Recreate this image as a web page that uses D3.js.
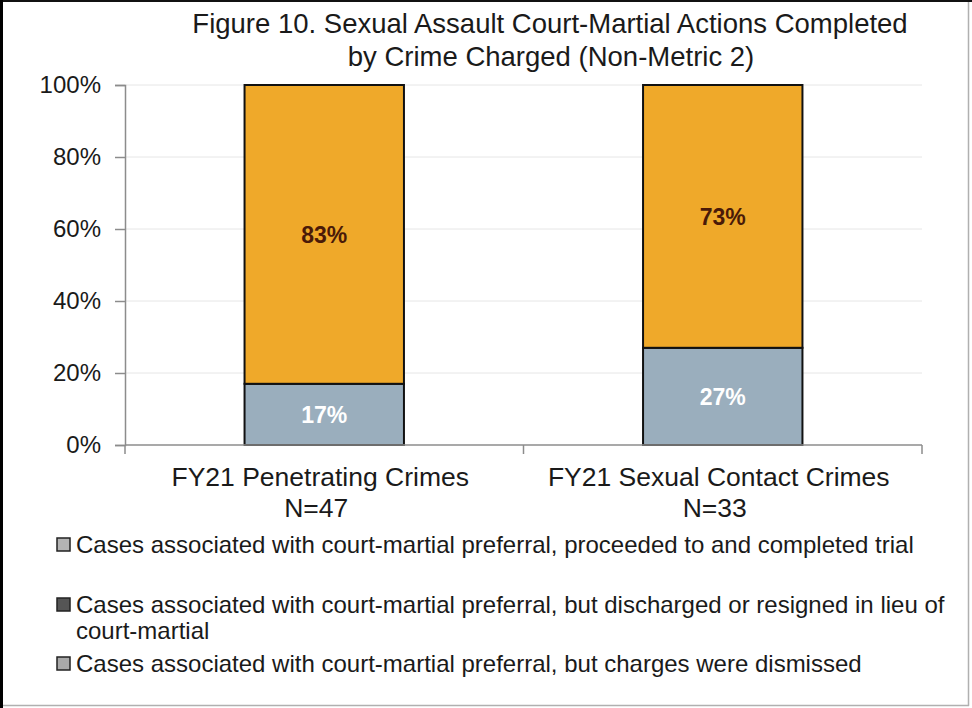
<!DOCTYPE html>
<html>
<head>
<meta charset="utf-8">
<script src="https://cdn.jsdelivr.net/npm/d3@7"></script>
<style>
  body { margin: 0; background: #fff; }
  svg { display: block; font-family: Arial, "Liberation Sans", sans-serif; }
</style>
</head>
<body>
<div id="viz"></div>
<script>
// chart values
const categories = ["FY21 Penetrating Crimes", "FY21 Sexual Contact Crimes"];
const caseCounts = ["N=47", "N=33"];
const dismissedPct = [17, 27];
const dischargedPct = [0, 0];
const trialPct = [83, 73];
const yTicks = [0, 20, 40, 60, 80, 100];
const legendLabels = [
  ["Cases associated with court-martial preferral, proceeded to and completed trial"],
  ["Cases associated with court-martial preferral, but discharged or resigned in lieu of", "court-martial"],
  ["Cases associated with court-martial preferral, but charges were dismissed"]
];
const legendFills = ["#b4b4b4", "#555555", "#a9a9a9"];

const width = 972;
const height = 708;
const plotLeft = 125;
const plotRight = 922;
const plotTop = 85;
const plotBottom = 445;

const svg = d3
  .select("#viz")
  .append("svg")
  .attr("width", width)
  .attr("height", height);

// frame round the figure
svg.append("rect").attr("x", 0).attr("y", 0).attr("width", width).attr("height", height).attr("fill", "#fff");
svg.append("line").attr("x1", 968.5).attr("x2", 968.5).attr("y1", 0).attr("y2", 706).attr("stroke", "#b0b0b0").attr("stroke-width", 1.5);
svg.append("line").attr("x1", 0).attr("x2", 969).attr("y1", 705.5).attr("y2", 705.5).attr("stroke", "#b0b0b0").attr("stroke-width", 1.5);
svg.append("line").attr("x1", 0).attr("x2", width).attr("y1", 1).attr("y2", 1).attr("stroke", "#111").attr("stroke-width", 2);
svg.append("line").attr("x1", 1.5).attr("x2", 1.5).attr("y1", 0).attr("y2", height).attr("stroke", "#000").attr("stroke-width", 3);

// title
const title = svg.append("text")
  .attr("text-anchor", "middle")
  .style("font-size", "27.5px")
  .style("fill", "#1a1a1a");
title.append("tspan").attr("x", 550).attr("y", 33).text("Figure 10. Sexual Assault Court-Martial Actions Completed");
title.append("tspan").attr("x", 551).attr("y", 66).text("by Crime Charged (Non-Metric 2)");

// scales
const x = d3.scaleBand()
  .domain(categories)
  .range([plotLeft, plotRight])
  .paddingInner(0.6)
  .paddingOuter(0.3);

const y = d3.scaleLinear()
  .domain([0, 100])
  .range([plotBottom, plotTop]);

// gridlines
svg.append("g")
  .selectAll("line")
  .data(yTicks.filter((d) => d > 0))
  .enter()
  .append("line")
  .attr("x1", plotLeft)
  .attr("x2", plotRight)
  .attr("y1", (d) => y(d))
  .attr("y2", (d) => y(d))
  .attr("stroke", "#e6e6e6")
  .attr("stroke-width", 1);

// stacked data
const tableRows = categories.map((c, i) => ({
  category: c,
  dismissed: dismissedPct[i],
  discharged: dischargedPct[i],
  trial: trialPct[i]
}));
const keys = ["dismissed", "discharged", "trial"];
const fills = { dismissed: "#9aaebd", discharged: "#555555", trial: "#efa92a" };
const labelColors = { dismissed: "#ffffff", discharged: "#ffffff", trial: "#4a1a08" };
const stacked = d3.stack().keys(keys)(tableRows);

const layers = svg.append("g")
  .selectAll("g")
  .data(stacked)
  .enter()
  .append("g");

layers.selectAll("rect")
  .data((s) => s.filter((d) => d[1] > d[0]))
  .enter()
  .append("rect")
  .attr("x", (d) => x(d.data.category))
  .attr("width", x.bandwidth())
  .attr("y", (d) => y(d[1]))
  .attr("height", (d) => y(d[0]) - y(d[1]))
  .attr("fill", function () { return fills[d3.select(this.parentNode).datum().key]; })
  .attr("stroke", "#111")
  .attr("stroke-width", 2);

// data labels
layers.selectAll("text")
  .data((s) => s.filter((d) => d[1] > d[0]).map((d) => ({ d, key: s.key })))
  .enter()
  .append("text")
  .attr("x", (o) => x(o.d.data.category) + x.bandwidth() / 2)
  .attr("y", (o) => y((o.d[0] + o.d[1]) / 2))
  .attr("dy", "0.36em")
  .attr("text-anchor", "middle")
  .style("font-size", "23px")
  .style("font-weight", "bold")
  .style("fill", (o) => labelColors[o.key])
  .text((o) => `${o.d[1] - o.d[0]}%`);

// y axis
const yAxis = svg.append("g")
  .attr("transform", `translate(${plotLeft},0)`)
  .call(d3.axisLeft(y).tickValues(yTicks).tickSize(10).tickPadding(14).tickFormat((d) => `${d}%`));
yAxis.select(".domain").attr("stroke", "#8c8c8c").attr("stroke-width", 1.5);
yAxis.selectAll(".tick line").attr("stroke", "#8c8c8c").attr("stroke-width", 1.5);
yAxis.selectAll(".tick text")
  .style("font-size", "24px")
  .style("font-family", "Arial, 'Liberation Sans', sans-serif")
  .style("fill", "#1a1a1a");

// x axis line with boundary ticks
svg.append("line")
  .attr("x1", plotLeft).attr("x2", plotRight)
  .attr("y1", plotBottom).attr("y2", plotBottom)
  .attr("stroke", "#8c8c8c").attr("stroke-width", 1.5);
const boundaries = [plotLeft, (x(categories[0]) + x.bandwidth() + x(categories[1])) / 2, plotRight];
svg.append("g")
  .selectAll("line")
  .data(boundaries)
  .enter()
  .append("line")
  .attr("x1", (d) => d).attr("x2", (d) => d)
  .attr("y1", plotBottom).attr("y2", plotBottom + 9)
  .attr("stroke", "#8c8c8c").attr("stroke-width", 1.5);

// category labels
const catLabels = svg.append("g")
  .selectAll("text")
  .data(categories)
  .enter()
  .append("text")
  .attr("text-anchor", "middle")
  .style("font-size", "26.5px")
  .style("fill", "#1a1a1a");
catLabels.append("tspan")
  .attr("x", (d) => x(d) + x.bandwidth() / 2 - 4)
  .attr("y", 486)
  .text((d) => d);
catLabels.append("tspan")
  .attr("x", (d) => x(d) + x.bandwidth() / 2 - 8)
  .attr("y", 517)
  .text((d, i) => caseCounts[i]);

// legend
const legendTop = [545, 605, 664];
const legend = svg.append("g")
  .selectAll("g")
  .data(legendLabels)
  .enter()
  .append("g")
  .attr("transform", (d, i) => `translate(57,${legendTop[i]})`);

legend.append("rect")
  .attr("x", 0).attr("y", -7)
  .attr("width", 13).attr("height", 13)
  .attr("fill", (d, i) => legendFills[i])
  .attr("stroke", "#222")
  .attr("stroke-width", 1.5);

legend.append("text")
  .style("font-size", "24px")
  .style("fill", "#1a1a1a")
  .selectAll("tspan")
  .data((d) => d)
  .enter()
  .append("tspan")
  .attr("x", 19)
  .attr("y", (d, j) => 8 + j * 26)
  .text((d) => d);
</script>
</body>
</html>
